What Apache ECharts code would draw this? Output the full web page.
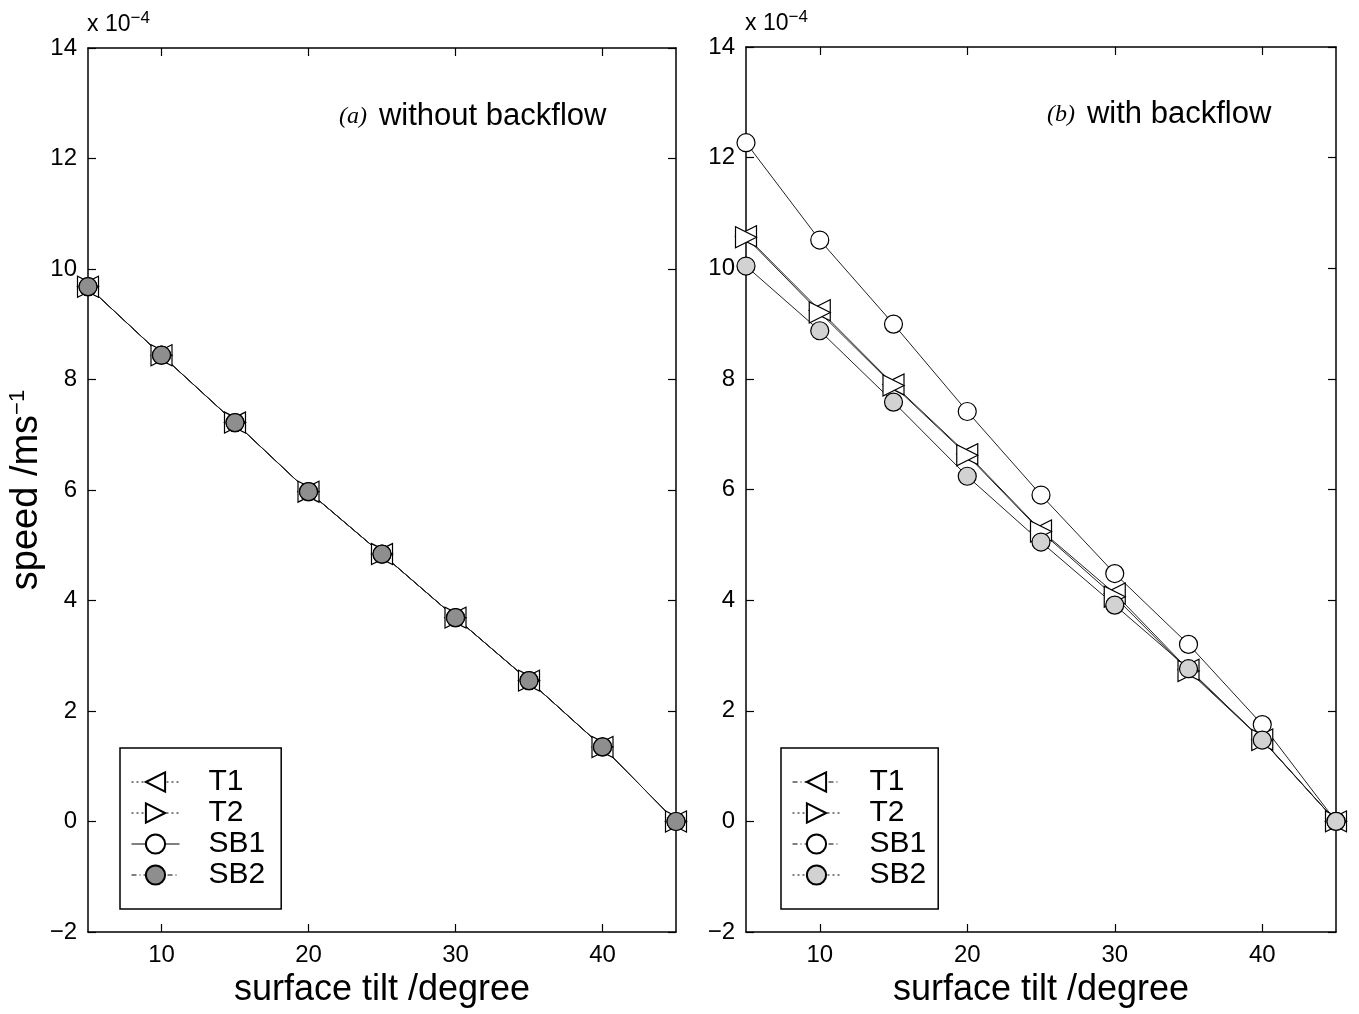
<!DOCTYPE html>
<html>
<head>
<meta charset="utf-8">
<script src="https://cdn.jsdelivr.net/npm/echarts@6/dist/echarts.min.js"></script>
<style>
  html, body { margin: 0; padding: 0; background: #fff; }
  #main { width: 1359px; height: 1014px; }
</style>
</head>
<body>
<div id="main"></div>
<script>
// surface tilt (degree)
const tilt = [5, 10, 15, 20, 25, 30, 35, 40, 45];
const xTicks = [10, 20, 30, 40];

// (a) without backflow, speed x 1e-4 m/s -- all four coincide
const aT1 = [9.68, 8.44, 7.22, 5.97, 4.84, 3.69, 2.55, 1.35, 0.0];
const aT2 = [9.68, 8.44, 7.22, 5.97, 4.84, 3.69, 2.55, 1.35, 0.0];
const aSB1 = [9.68, 8.44, 7.22, 5.97, 4.84, 3.69, 2.55, 1.35, 0.0];
const aSB2 = [9.68, 8.44, 7.22, 5.97, 4.84, 3.69, 2.55, 1.35, 0.0];

// (b) with backflow
const bT1 = [10.58, 9.24, 7.90, 6.64, 5.26, 4.12, 2.74, 1.48, 0.0];
const bT2 = [10.56, 9.20, 7.88, 6.62, 5.24, 4.06, 2.72, 1.47, 0.0];
const bSB1 = [12.27, 10.51, 8.99, 7.41, 5.90, 4.48, 3.20, 1.75, 0.0];
const bSB2 = [10.04, 8.87, 7.58, 6.24, 5.05, 3.91, 2.76, 1.47, 0.0];

const font = 'Liberation Sans, Arial, Helvetica, sans-serif';
const chart = echarts.init(document.getElementById('main'));

const pair = (xs, ys) => xs.map((x, i) => [x, ys[i]]);
const minus = (v) => (v < 0 ? '\u2212' + Math.abs(v) : String(v));

const grids = [
  { left: 88, top: 48, width: 588, height: 884 },
  { left: 746, top: 47, width: 590, height: 885 },
];

function xAxes(g) {
  const base = {
    type: 'value', gridIndex: g, min: 5, max: 45,
    splitLine: { show: false },
    axisLine: { onZero: false, lineStyle: { color: '#000', width: 1.5 } },
    axisTick: { inside: true, length: 8, customValues: xTicks, lineStyle: { color: '#000', width: 1.2 } },
  };
  return [
    Object.assign({}, base, {
      position: 'bottom',
      name: 'surface tilt /degree', nameLocation: 'middle', nameGap: 38,
      nameTextStyle: { fontFamily: font, fontSize: 36, color: '#000' },
      axisLabel: { customValues: xTicks, fontFamily: font, fontSize: 24, color: '#000', margin: 11 },
    }),
    Object.assign({}, base, { position: 'top', axisLabel: { show: false } }),
  ];
}

function yAxes(g, withName) {
  const base = {
    type: 'value', gridIndex: g, min: -2, max: 14, interval: 2,
    splitLine: { show: false },
    axisLine: { onZero: false, lineStyle: { color: '#000', width: 1.5 } },
    axisTick: { inside: true, length: 8, lineStyle: { color: '#000', width: 1.2 } },
  };
  const left = Object.assign({}, base, {
    position: 'left',
    axisLabel: { formatter: minus, fontFamily: font, fontSize: 24, color: '#000', margin: 11 },
  });
  if (withName) {
    Object.assign(left, {
      name: '{a|speed /ms}{s|\u22121}', nameLocation: 'middle', nameGap: 40, nameRotate: 90,
      nameTextStyle: {
        rich: {
          a: { fontFamily: font, fontSize: 38, color: '#000', lineHeight: 40 },
          s: { fontFamily: font, fontSize: 22, color: '#000', verticalAlign: 'top', lineHeight: 40 },
        },
      },
    });
  }
  return [left, Object.assign({}, base, { position: 'right', axisLabel: { show: false } })];
}

function series(g, suffix, t1, t2, sb1, sb2, grey) {
  const common = {
    type: 'line', xAxisIndex: g * 2, yAxisIndex: g * 2,
    lineStyle: { color: '#222', width: 1 },
    itemStyle: { color: '#fff', borderColor: '#000', borderWidth: 1.2 },
    animation: false,
  };
  return [
    Object.assign({}, common, { name: 'T1' + suffix, data: pair(tilt, t1), symbol: 'triangle', symbolSize: 21, symbolRotate: 90 }),
    Object.assign({}, common, { name: 'T2' + suffix, data: pair(tilt, t2), symbol: 'triangle', symbolSize: 21, symbolRotate: -90 }),
    Object.assign({}, common, { name: 'SB1' + suffix, data: pair(tilt, sb1), symbol: 'circle', symbolSize: 18 }),
    Object.assign({}, common, {
      name: 'SB2' + suffix, data: pair(tilt, sb2), symbol: 'circle', symbolSize: 18,
      itemStyle: { color: grey, borderColor: '#000', borderWidth: 1.2 },
    }),
  ];
}

function legend(left, suffix, pad, styles) {
  return {
    orient: 'vertical', left: left, top: 748,
    selectedMode: false,
    data: ['T1', 'T2', 'SB1', 'SB2'].map((n, i) => ({ name: n + suffix, lineStyle: styles[i] })),
    formatter: (n) => n.replace('_b', ''),
    itemWidth: 48, itemHeight: 24, itemGap: 1,
    padding: pad,
    borderColor: '#000', borderWidth: 1.5, backgroundColor: '#fff',
    textStyle: { fontFamily: font, fontSize: 30, lineHeight: 30, color: '#000', padding: [0, 0, 0, 24] },
  };
}

const dotted = { type: [2, 3], width: 1, color: '#000' };
const dashDot = { type: [5, 3, 1, 3], width: 1, color: '#000' };
const solid = { type: 'solid', width: 1, color: '#000' };

const sup = {
  a: { fontFamily: font, fontSize: 23, fill: '#000', lineHeight: 30 },
  s: { fontFamily: font, fontSize: 17, fill: '#000', verticalAlign: 'top', lineHeight: 30 },
};
const ann = {
  i: { fontFamily: 'Liberation Serif, serif', fontStyle: 'italic', fontSize: 24, fill: '#000', padding: [0, 12, 0, 0] },
  t: { fontFamily: font, fontSize: 31, fill: '#000' },
};

const option = {
  backgroundColor: '#fff',
  animation: false,
  grid: grids,
  xAxis: xAxes(0).concat(xAxes(1)),
  yAxis: yAxes(0, true).concat(yAxes(1, false)),
  legend: [
    legend(120, '', [19, 16, 19, 11], [dotted, dotted, solid, dashDot]),
    legend(781, '_b', [19, 12, 19, 11], [dashDot, dotted, dashDot, dotted]),
  ],
  graphic: [
    { type: 'text', left: 87, top: 10, style: { text: '{a|x 10}{s|\u22124}', rich: sup } },
    { type: 'text', left: 745, top: 9, style: { text: '{a|x 10}{s|\u22124}', rich: sup } },
    { type: 'text', left: 339, top: 101, style: { text: '{i|(a)}{t|without backflow}', rich: ann } },
    { type: 'text', left: 1047, top: 99, style: { text: '{i|(b)}{t|with backflow}', rich: ann } },
  ],
  series: series(0, '', aT1, aT2, aSB1, aSB2, '#8e8e8e').concat(series(1, '_b', bT1, bT2, bSB1, bSB2, '#d2d2d2')),
};

chart.setOption(option);
</script>
</body>
</html>
